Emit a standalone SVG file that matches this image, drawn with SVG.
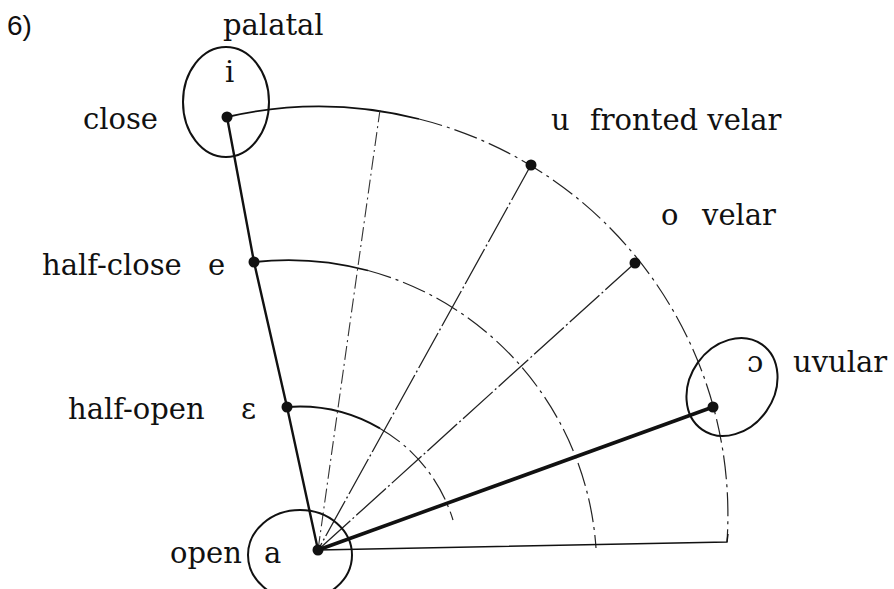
<svg xmlns="http://www.w3.org/2000/svg" width="894" height="589" viewBox="0 0 894 589">
<style>
  .lbl { font-family: "DejaVu Serif", "Liberation Serif", serif; font-size: 29px; fill: #111; }
  .num { font-family: "Liberation Sans", Arial, sans-serif; font-size: 28px; fill: #111; }
  .ell { fill: none; stroke: #111; stroke-width: 2; }
  .dot { fill: #111; }
  .main { fill: none; stroke: #111; stroke-width: 2.4; }
  .thick { fill: none; stroke: #111; stroke-width: 3.6; }
  .arc { fill: none; stroke: #111; stroke-width: 1.8; }
  .arcd { fill: none; stroke: #222; stroke-width: 1.2; stroke-dasharray: 24 5 3 5; }
  .ray { fill: none; stroke: #222; stroke-width: 1.3; stroke-dasharray: 40 3 2 3; }
  .dd { fill: none; stroke: #333; stroke-width: 1.1; stroke-dasharray: 14 4 2 4; }
  .base { fill: none; stroke: #111; stroke-width: 1.4; }
</style>
<rect width="894" height="589" fill="#fff"/>
<text class="num" x="7" y="35">6)</text>

<g id="connectors">
  <!-- outer arc: centre (320,515), r 408 -->
  <path class="arc" d="M227 117 A408 408 0 0 1 419 119"/>
  <path class="arcd" d="M419 119 A408 408 0 0 1 727 542"/>
  <!-- middle arc: centre (288,569), r 309 -->
  <path class="arc" d="M254 262 A309 309 0 0 1 368 270.5"/>
  <path class="arcd" d="M368 270.5 A309 309 0 0 1 596 548"/>
  <!-- inner arc: centre (300,567), r 160 -->
  <path class="arc" d="M287 407 A160 160 0 0 1 380 428.4"/>
  <path class="arcd" d="M380 428.4 A160 160 0 0 1 453 520"/>
  <!-- radial lines -->
  <path class="main" d="M227 117 L254 262 L287 407 L318 550"/>
  <path class="dd" d="M318 550 L380 110"/>
  <path class="ray" d="M531 165 L318 550"/>
  <path class="ray" d="M635 263 L318 550"/>
  <path class="thick" d="M318 550 L713 407"/>
  <path class="base" d="M318 550 L727 542 L728 534"/>
</g>

<g id="node-i">
  <ellipse class="ell" cx="226" cy="102" rx="43" ry="55"/>
  <circle class="dot" cx="227" cy="117" r="5.5"/>
  <text class="lbl" x="225" y="82">i</text>
  <text class="lbl" x="223" y="35">palatal</text>
  <text class="lbl" x="83" y="129">close</text>
</g>
<g id="node-e">
  <circle class="dot" cx="254" cy="262" r="5.5"/>
  <text class="lbl" x="42" y="275">half-close</text>
  <text class="lbl" x="208" y="275">e</text>
</g>
<g id="node-eps">
  <circle class="dot" cx="287" cy="407" r="5.5"/>
  <text class="lbl" x="68" y="419">half-open</text>
  <text class="lbl" x="241" y="419">ɛ</text>
</g>
<g id="node-a">
  <ellipse class="ell" cx="300" cy="555" rx="52" ry="45"/>
  <circle class="dot" cx="318" cy="550" r="5.5"/>
  <text class="lbl" x="170" y="563">open</text>
  <text class="lbl" x="264" y="563">a</text>
</g>
<g id="node-u">
  <circle class="dot" cx="531" cy="165" r="5.5"/>
  <text class="lbl" x="551" y="130">u</text>
  <text class="lbl" x="590" y="130">fronted velar</text>
</g>
<g id="node-o">
  <circle class="dot" cx="635" cy="263" r="5.5"/>
  <text class="lbl" x="661" y="225">o</text>
  <text class="lbl" x="702" y="225">velar</text>
</g>
<g id="node-oo">
  <ellipse class="ell" cx="732" cy="387" rx="42" ry="52" transform="rotate(35 732 387)"/>
  <circle class="dot" cx="713" cy="407" r="5.5"/>
  <text class="lbl" x="747" y="372">ɔ</text>
  <text class="lbl" x="793" y="372">uvular</text>
</g>
</svg>
